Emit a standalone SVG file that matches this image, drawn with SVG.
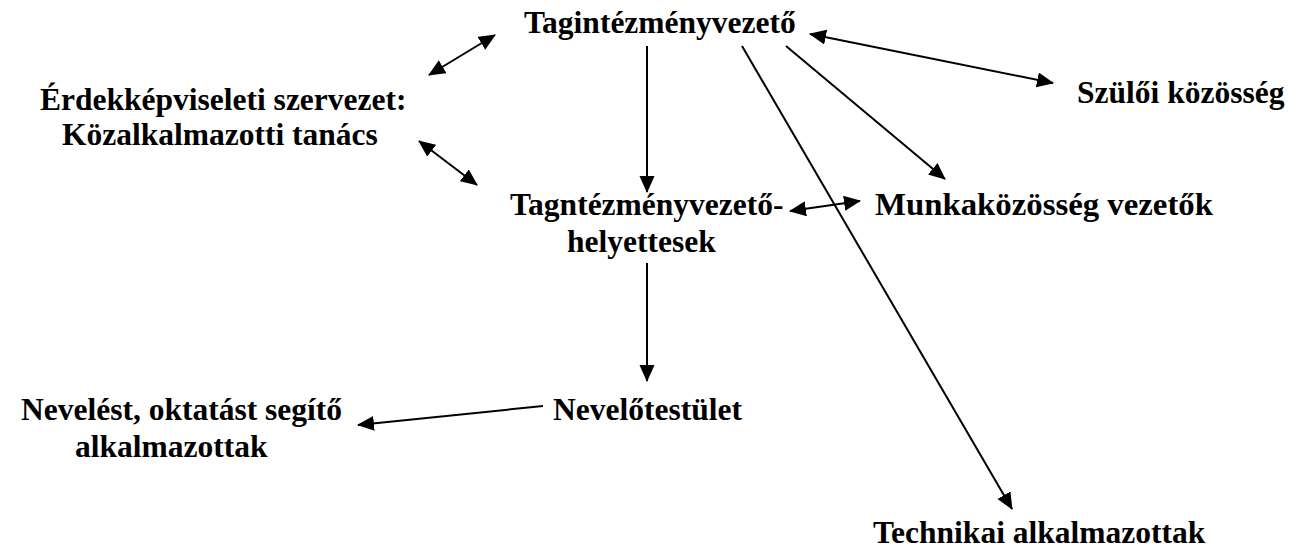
<svg xmlns="http://www.w3.org/2000/svg" width="1289" height="551" viewBox="0 0 1289 551">
<style>
.t{font-family:"Liberation Serif","Times New Roman",serif;font-weight:bold;font-size:31.5px;fill:#000}
.c{stroke:#000;stroke-width:2;fill:none}
</style>
<defs>
<marker id="ah" markerUnits="userSpaceOnUse" markerWidth="18" markerHeight="16" refX="16" refY="7.5" orient="auto-start-reverse" viewBox="0 0 18 16">
<path d="M0,0 L17,7.5 L0,15 z" fill="#000"/>
</marker>
</defs>
<rect width="1289" height="551" fill="#fff"/>
<g id="connectors">
<line class="c" x1="495" y1="35" x2="429" y2="75" marker-start="url(#ah)" marker-end="url(#ah)"/>
<line class="c" x1="419" y1="141" x2="477" y2="185" marker-start="url(#ah)" marker-end="url(#ah)"/>
<line class="c" x1="647" y1="46" x2="647" y2="192" marker-end="url(#ah)"/>
<line class="c" x1="742" y1="46" x2="1012" y2="509" stroke-width="1.6" marker-end="url(#ah)"/>
<line class="c" x1="786" y1="46" x2="945" y2="179" marker-end="url(#ah)"/>
<line class="c" x1="810" y1="34" x2="1053" y2="83" marker-start="url(#ah)" marker-end="url(#ah)"/>
<line class="c" x1="790" y1="211" x2="860" y2="201" marker-start="url(#ah)" marker-end="url(#ah)"/>
<line class="c" x1="647" y1="263" x2="647" y2="381" marker-end="url(#ah)"/>
<line class="c" x1="543" y1="406" x2="358" y2="425" marker-end="url(#ah)"/>
</g>
<g id="tagintezmenyvezeto"><text class="t" x="524" y="33">Tagintézményvezető</text></g>
<g id="szuloi"><text class="t" x="1077" y="103">Szülői közösség</text></g>
<g id="erdekkepviseleti"><text class="t" x="40" y="110">Érdekképviseleti szervezet:</text><text class="t" x="62" y="145">Közalkalmazotti tanács</text></g>
<g id="helyettesek"><text class="t" x="510" y="215">Tagntézményvezető-</text><text class="t" x="567" y="252">helyettesek</text></g>
<g id="munkakozosseg"><text class="t" x="875" y="215" textLength="338" lengthAdjust="spacingAndGlyphs">Munkaközösség vezetők</text></g>
<g id="nevelotestulet"><text class="t" x="553" y="420">Nevelőtestület</text></g>
<g id="neveles"><text class="t" x="21" y="420">Nevelést, oktatást segítő</text><text class="t" x="75" y="457">alkalmazottak</text></g>
<g id="technikai"><text class="t" x="873" y="543">Technikai alkalmazottak</text></g>
</svg>
